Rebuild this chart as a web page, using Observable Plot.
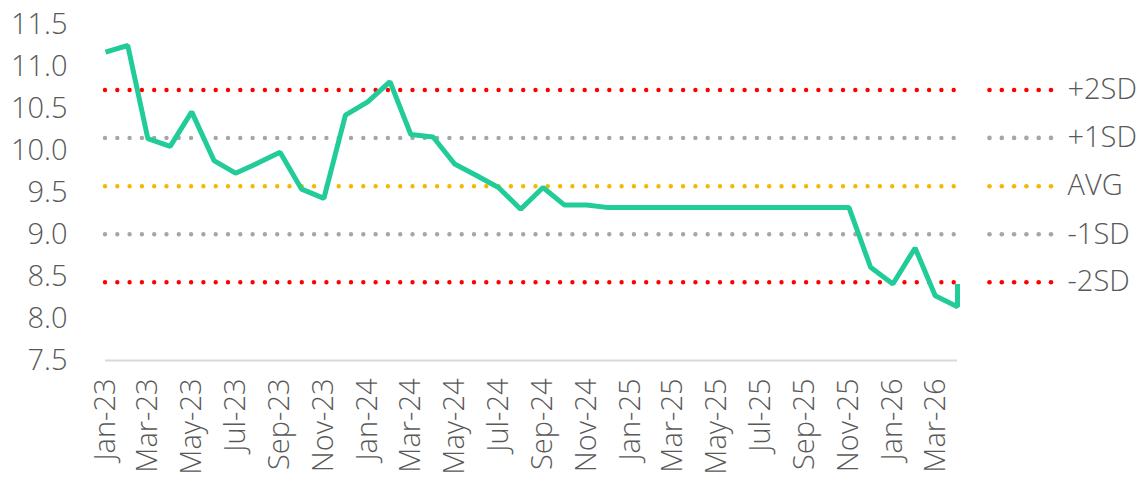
<!DOCTYPE html>
<html><head><meta charset="utf-8">
<script src="https://cdn.jsdelivr.net/npm/d3@7"></script>
<script src="https://cdn.jsdelivr.net/npm/@observablehq/plot@0.6"></script>
<style>
body{margin:0;background:#fff;}
#chart svg{display:block}
</style></head><body><div id="chart"></div>
<script>
const months = ["2023-01","2023-02","2023-03","2023-04","2023-05","2023-06","2023-07","2023-08","2023-09","2023-10","2023-11","2023-12",
  "2024-01","2024-02","2024-03","2024-04","2024-05","2024-06","2024-07","2024-08","2024-09","2024-10","2024-11","2024-12",
  "2025-01","2025-02","2025-03","2025-04","2025-05","2025-06","2025-07","2025-08","2025-09","2025-10","2025-11","2025-12",
  "2026-01","2026-02","2026-03","2026-04","2026-04"];
const values = [11.17,11.25,10.14,10.05,10.46,9.88,9.73,9.85,9.98,9.54,9.43,10.42,
  10.58,10.82,10.19,10.16,9.84,9.70,9.56,9.30,9.56,9.35,9.35,9.32,
  9.32,9.32,9.32,9.32,9.32,9.32,9.32,9.32,9.32,9.32,9.32,8.61,
  8.41,8.84,8.27,8.14,8.41];
const levelNames = ["+2SD","+1SD","AVG","-1SD","-2SD"];
const levelValues = [10.72,10.15,9.575,9.003,8.432];
const levelColors = ["#FF0000","#A6A6A6","#F5B800","#A6A6A6","#FF0000"];
const yTicks = [7.5,8.0,8.5,9.0,9.5,10.0,10.5,11.0,11.5];

const parse = d3.utcParse("%Y-%m");
const series = months.map((m,i)=>({date: parse(m), value: values[i]}));
const start = series[0].date, end = series[series.length-1].date;
const xTicks = d3.utcMonth.every(2).range(start, end);
const levels = levelNames.map((name,i)=>({name, value: levelValues[i], color: levelColors[i]}));

const legendDots = [0,1,2,3,4,5].map(i => Plot.dot(levels, {x: () => end, y: "value", dx: 32 + i*12.3, r: 2.3, fill: "color", stroke: null}));

const chart = Plot.plot({
  width: 1142, height: 483,
  marginTop: 24, marginBottom: 123, marginLeft: 105, marginRight: 185,
  style: {color: "#595959", fontFamily: "'Open Sans', Lato, sans-serif", fontWeight: 300, background: "#fff"},
  x: {type: "utc", domain: [start, end]},
  y: {domain: [7.5, 11.5]},
  color: {type: "identity"},
  marks: [
    Plot.ruleY([7.5], {stroke: "#D9D9D9", strokeWidth: 2}),
    Plot.ruleY(levels, {y: "value", stroke: "color", strokeWidth: 4.4, strokeDasharray: "0,12.3", strokeLinecap: "round"}),
    Plot.line(series, {x: "date", y: "value", stroke: "#22CC99", strokeWidth: 5, strokeLinejoin: "miter", strokeLinecap: "butt"}),
    ...legendDots,
    Plot.text(levels, {x: () => end, y: "value", text: "name", dx: 110, textAnchor: "start", fill: "#595959", fontSize: 29}),
    Plot.axisY(yTicks, {tickSize: 0, tickPadding: 38, tickFormat: d3.format(".1f"), fontSize: 29, label: null}),
    Plot.axisX(xTicks, {tickSize: 0, tickPadding: 18, tickRotate: -90, tickFormat: d3.utcFormat("%b-%y"), fontSize: 29, label: null, style: {letterSpacing: "1px"}})
  ]
});
document.getElementById("chart").appendChild(chart);
</script></body></html>
